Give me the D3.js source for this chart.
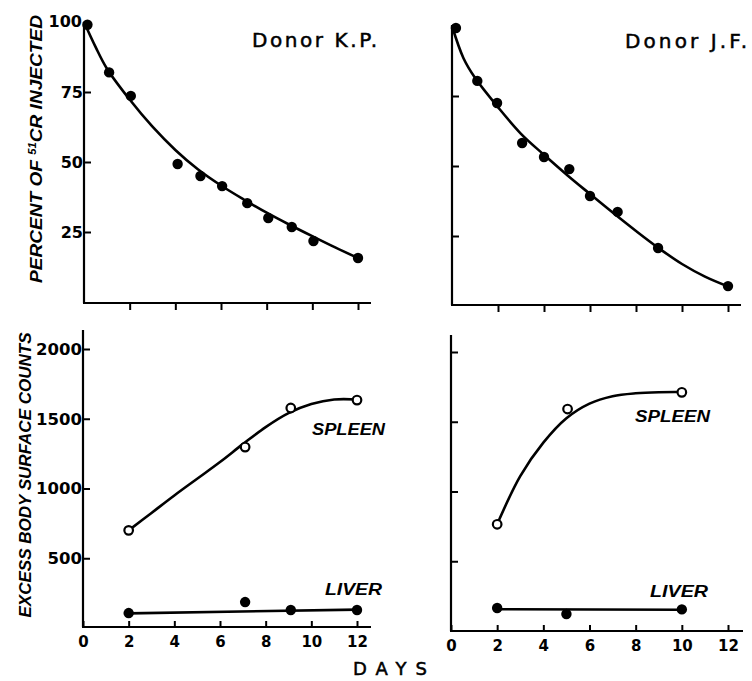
<!DOCTYPE html>
<html><head><meta charset="utf-8">
<script src="https://cdn.jsdelivr.net/npm/d3@7"></script>
<style>body{margin:0;background:#fff}svg{display:block}</style>
</head><body>
<script>
// ---- data ----
const kpDays = [0.15, 1.1, 2.05, 4.1, 5.1, 6.05, 7.15, 8.07, 9.1, 10.05, 12];
const kpPct  = [99, 82, 73.6, 49.3, 45, 41.4, 35.3, 30, 26.8, 21.8, 15.7];
const kpCurveDays = [0, 0.5, 1, 2, 3, 4, 5, 6, 7, 8, 9, 10, 11, 12];
const kpCurvePct  = [100, 91.2, 83.4, 72.3, 62.6, 54.3, 47.3, 41.6, 36.6, 31.9, 27.6, 23.5, 19.5, 15.7];

const jfDays = [0.17, 1.1, 1.96, 3.05, 4, 5.1, 6, 7.2, 8.96, 12];
const jfPct  = [99.3, 80.4, 72.5, 58.2, 53.2, 48.9, 39.3, 33.6, 20.7, 7.1];
const jfCurveDays = [0, 0.5, 1, 2, 3, 4, 5, 6, 7, 8, 9, 10, 11, 12];
const jfCurvePct  = [100, 88.5, 81.5, 71, 61.5, 54, 46.8, 40, 33.3, 26.8, 20.6, 15, 10.5, 7];

const kpSpleenDays = [2, 7.1, 9.1, 12];
const kpSpleen     = [700, 1297, 1577, 1634];
const kpSpleenCurveDays = [2, 3, 4, 5, 6, 7, 8, 9, 10, 11, 12];
const kpSpleenCurve     = [700, 825, 950, 1070, 1190, 1318, 1440, 1540, 1605, 1638, 1638];
const kpLiverDays = [2, 7.1, 9.1, 12];
const kpLiver     = [107, 186, 129, 129];
const kpLiverLineDays = [2, 12];
const kpLiverLine     = [105, 132];

const jfSpleenDays = [2, 5.05, 10];
const jfSpleen     = [765, 1591, 1711];
const jfSpleenCurveDays = [2, 3, 4, 5, 6, 7, 8, 9, 10];
const jfSpleenCurve     = [765, 1110, 1350, 1525, 1630, 1683, 1704, 1712, 1713];
const jfLiverDays = [2, 5, 10];
const jfLiver     = [165, 122, 155];
const jfLiverLineDays = [2, 10];
const jfLiverLine     = [156, 152];

const pctTicks = [25, 50, 75, 100];
const countTicks = [500, 1000, 1500, 2000];
const dayTicks = [0, 2, 4, 6, 8, 10, 12];

const W = 752, H = 681;
const svg = d3.select("body").append("svg").attr("width", W).attr("height", H);

const numFont = "'DejaVu Sans', sans-serif";

function panel(o) {
  const x = d3.scaleLinear().domain([0, 12]).range(o.xr);
  const y = d3.scaleLinear().domain(o.yd).range(o.yr);
  const g = svg.append("g");
  g.append("line").attr("x1", x(0)).attr("x2", x(0)).attr("y1", o.yTop).attr("y2", o.xAxisY)
    .attr("stroke", "#000").attr("stroke-width", 2.2);
  g.append("line").attr("x1", x(0) - 1).attr("x2", o.xEnd).attr("y1", o.xAxisY).attr("y2", o.xAxisY)
    .attr("stroke", "#000").attr("stroke-width", 2.2);
  const ya = d3.axisLeft(y).tickValues(o.yTicks).tickSize(-7).tickPadding(1)
    .tickFormat(o.yLabels ? d3.format("d") : () => "");
  const yg = g.append("g").attr("transform", `translate(${x(0)},0)`).call(ya);
  yg.select(".domain").remove();
  yg.selectAll(".tick line").attr("stroke", "#000").attr("stroke-width", 2);
  yg.selectAll(".tick text").attr("font-family", numFont).attr("font-weight", "bold")
    .attr("font-size", o.yFont).attr("fill", "#000");
  const xa = d3.axisBottom(x).tickValues(o.xLabels ? dayTicks : dayTicks.slice(1))
    .tickSize(o.xLabels ? -6 : 7).tickPadding(9)
    .tickFormat(o.xLabels ? d3.format("d") : () => "");
  const xg = g.append("g").attr("transform", `translate(0,${o.xAxisY})`).call(xa);
  xg.select(".domain").remove();
  xg.selectAll(".tick line").attr("stroke", "#000").attr("stroke-width", 2);
  xg.selectAll(".tick text").attr("font-family", numFont).attr("font-weight", "bold")
    .attr("font-size", 15).attr("fill", "#000");
  return {x, y, g};
}

function curve(p, days, vals) {
  const line = d3.line().x(d => p.x(d[0])).y(d => p.y(d[1])).curve(d3.curveCatmullRom.alpha(0.5));
  p.g.append("path").attr("d", line(days.map((d, i) => [d, vals[i]])))
    .attr("fill", "none").attr("stroke", "#000").attr("stroke-width", 2.6);
}
function dots(p, days, vals, open) {
  p.g.selectAll(null).data(days.map((d, i) => [d, vals[i]])).join("circle")
    .attr("cx", d => p.x(d[0])).attr("cy", d => p.y(d[1]))
    .attr("r", open ? 4.3 : 5.2)
    .attr("fill", open ? "#fff" : "#000").attr("stroke", "#000").attr("stroke-width", open ? 2.2 : 0);
}

const tl = panel({xr: [84, 358], yd: [0, 100], yr: [302, 22], yTop: 22, xAxisY: 303, xEnd: 371,
  yTicks: pctTicks.slice(0, 3), yLabels: true, xLabels: false, yFont: 16});
tl.g.append("text").attr("x", 82).attr("y", tl.y(100)).attr("dy", "0.32em").attr("text-anchor", "end")
  .attr("font-family", numFont).attr("font-weight", "bold").attr("font-size", 16).text(pctTicks[3]);
curve(tl, kpCurveDays, kpCurvePct);
dots(tl, kpDays, kpPct, false);

const tr = panel({xr: [452, 728], yd: [0, 100], yr: [306, 26], yTop: 25, xAxisY: 305, xEnd: 741,
  yTicks: pctTicks.slice(0, 3), yLabels: false, xLabels: false, yFont: 16});
curve(tr, jfCurveDays, jfCurvePct);
dots(tr, jfDays, jfPct, false);

const bl = panel({xr: [83, 357], yd: [0, 2000], yr: [628, 349], yTop: 330, xAxisY: 627, xEnd: 371,
  yTicks: countTicks, yLabels: true, xLabels: true, yFont: 16.5});
curve(bl, kpSpleenCurveDays, kpSpleenCurve);
dots(bl, kpSpleenDays, kpSpleen, true);
curve(bl, kpLiverLineDays, kpLiverLine);
dots(bl, kpLiverDays, kpLiver, false);

const br = panel({xr: [451, 728], yd: [0, 2000], yr: [631, 352], yTop: 335, xAxisY: 631, xEnd: 743,
  yTicks: countTicks, yLabels: false, xLabels: true, yFont: 16.5});
curve(br, jfSpleenCurveDays, jfSpleenCurve);
dots(br, jfSpleenDays, jfSpleen, true);
curve(br, jfLiverLineDays, jfLiverLine);
dots(br, jfLiverDays, jfLiver, false);

function heavy(sel) { return sel.attr("stroke", "#000").attr("stroke-width", 0.5); }
heavy(svg.append("text").attr("x", 252).attr("y", 47).attr("font-family", "'DejaVu Sans', sans-serif")
  .attr("font-size", 20).attr("textLength", 125).attr("lengthAdjust", "spacing").text("Donor K.P."));
heavy(svg.append("text").attr("x", 625).attr("y", 48).attr("font-family", "'DejaVu Sans', sans-serif")
  .attr("font-size", 20).attr("textLength", 122).attr("lengthAdjust", "spacing").text("Donor J.F."));

function lab(x, y, t, w) {
  svg.append("text").attr("x", x).attr("y", y).attr("font-family", "'Liberation Sans', sans-serif")
    .attr("font-weight", "bold").attr("font-style", "italic").attr("font-size", 16)
    .attr("textLength", w).attr("lengthAdjust", "spacingAndGlyphs").text(t);
}
lab(312, 435, "SPLEEN", 73);
lab(325, 595, "LIVER", 57);
lab(635, 422, "SPLEEN", 75);
lab(650, 597, "LIVER", 58);

const t1 = svg.append("text").attr("transform", "translate(42,149) rotate(-90)")
  .attr("text-anchor", "middle").attr("font-family", "'Liberation Sans', sans-serif")
  .attr("font-weight", "bold").attr("font-style", "italic").attr("font-size", 17)
  .attr("textLength", 268).attr("lengthAdjust", "spacingAndGlyphs");
t1.append("tspan").text("PERCENT OF ");
t1.append("tspan").attr("font-size", 10).attr("dy", -6).text("51");
t1.append("tspan").attr("dy", 6).text("CR INJECTED");

svg.append("text").attr("transform", "translate(31,475) rotate(-90)")
  .attr("text-anchor", "middle").attr("font-family", "'Liberation Sans', sans-serif")
  .attr("font-weight", "bold").attr("font-style", "italic").attr("font-size", 17)
  .attr("textLength", 285).attr("lengthAdjust", "spacingAndGlyphs")
  .text("EXCESS BODY SURFACE COUNTS");

heavy(svg.append("text").attr("x", 353).attr("y", 675).attr("font-family", "'DejaVu Sans', sans-serif")
  .attr("font-size", 18).attr("textLength", 74).attr("lengthAdjust", "spacing").text("DAYS"));
</script>
</body></html>
